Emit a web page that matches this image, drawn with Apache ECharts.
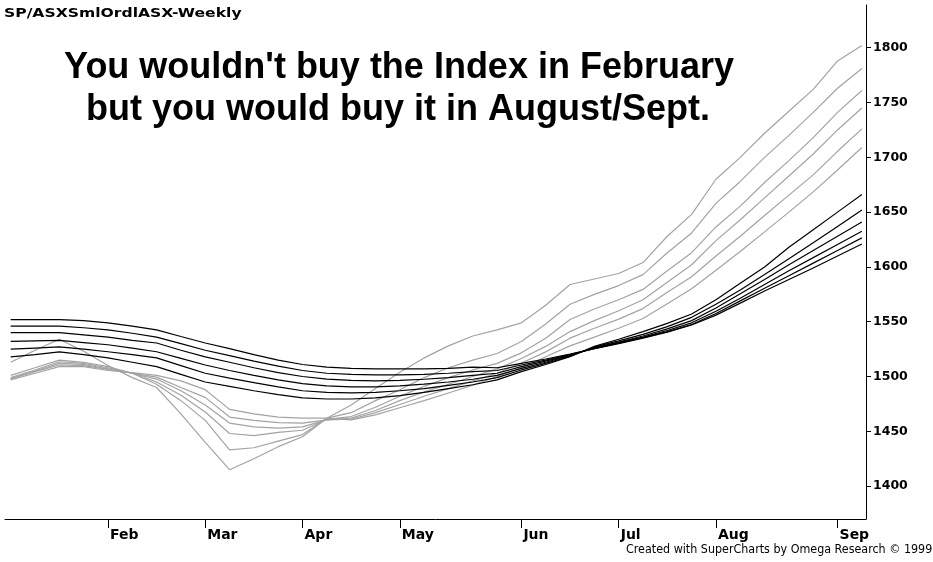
<!DOCTYPE html>
<html>
<head>
<meta charset="utf-8">
<script src="https://cdn.jsdelivr.net/npm/echarts@6/dist/echarts.min.js"></script>
<style>
html,body{margin:0;padding:0;background:#fff;}
#chart{width:933px;height:562px;}
</style>
</head>
<body>
<div id="chart"></div>
<script>
// ---- data (weekly bars, index 0 = mid January) ----
var weeks = [0,1,2,3,4,5,6,7,8,9,10,11,12,13,14,15,16,17,18,19,20,21,22,23,24,25,26,27,28,29,30,31,32,33,34,35];
var monthTickWeeks = [4,8,12,16,21,25,29,34];
var monthNames = ['Feb','Mar','Apr','May','Jun','Jul','Aug','Sep'];
var priceTicks = [1400,1450,1500,1550,1600,1650,1700,1750,1800];

// short-term averages (grey)
var g1 = [1513,1524,1534,1523,1510,1499,1490,1466,1440,1415,1425,1436,1445,1462,1474,1489,1504,1517,1528,1537,1542.5,1549,1565,1584,1589,1594,1604,1628,1648,1680,1700,1722,1742,1762,1788,1802];
var g2 = [1501,1508,1515,1513,1509,1503,1493,1478,1460,1433,1435,1441,1447,1462,1467,1478,1488,1499,1508,1515,1521,1532,1548,1566,1575,1583,1593,1613,1631,1658,1678,1700,1720,1741,1763,1781];
var g3 = [1499,1506,1513.5,1512,1508,1503,1495,1483,1467.6,1448,1446,1449,1451,1461,1463.5,1472,1482,1491,1499,1506,1512,1521.6,1535,1552,1561.6,1570,1579.5,1596.5,1613,1636.5,1655.5,1677,1697,1718,1741,1761];
var g4 = [1498,1505,1512,1511,1507,1503,1497.7,1487,1474,1457.5,1454,1453,1454,1460.5,1462,1469,1478,1486,1493,1500,1507,1516.5,1527.5,1541,1551,1560,1570,1586,1602,1624,1643,1663,1683,1703,1725,1745];
var g5 = [1498,1504.5,1510.5,1510,1506.5,1503,1499.5,1490,1481,1463,1460,1458,1457.5,1460.5,1461,1467,1474.5,1482,1489,1496,1503,1512.4,1522.5,1535,1544,1552.4,1562,1577,1591,1610,1628,1647,1665.5,1684,1705.5,1726];
var g6 = [1497,1503,1509,1509,1505.5,1503.5,1501,1496,1488,1470,1466,1463,1462,1462,1460.5,1465,1471.5,1478,1485,1492,1500,1508,1518,1528,1536,1544,1553,1566.5,1580,1597,1614,1632,1650,1668.5,1688.5,1709];

// long-term averages (black)
var b60 = [1552,1552,1552,1551,1549,1546,1542.5,1536.5,1530.6,1525.5,1520,1515,1511,1508.5,1507.5,1507,1507,1507,1507.5,1508.5,1508,1512,1516,1520.5,1525.5,1530,1535,1540.5,1547,1556,1567,1578,1588.5,1599,1610,1621];
var b50 = [1546,1546,1546,1544.5,1542.5,1539.5,1536,1530,1524,1519,1514,1509.5,1505.5,1503,1502,1501.5,1501.5,1502,1503,1504.5,1505.5,1510.5,1515,1520,1525.5,1530.5,1535.5,1541,1547.5,1557.5,1569,1580.5,1592,1603.5,1615,1626.5];
var b45 = [1540,1540,1540,1538,1536,1533,1530.6,1524,1518,1513,1508,1503.5,1500,1497.7,1496.5,1496,1496.5,1497.5,1499,1501,1503,1509,1514,1519.5,1526,1531,1536,1542,1549,1559.5,1571.5,1584,1596.5,1608.5,1620.5,1632.5];
var b40 = [1532,1532.5,1533,1531,1529,1526,1522.6,1516.5,1510.5,1505.5,1501,1497,1493.5,1491.5,1490.5,1490.5,1491.5,1493,1495,1497.5,1501,1507.5,1513,1519,1526.5,1531.5,1537,1543.5,1551,1562.5,1575.5,1588.5,1602,1615,1628,1641];
var b35 = [1525,1526,1527,1525,1522.6,1520,1517,1510,1503,1498.5,1494.5,1490.5,1487,1485.5,1485,1485.5,1487,1489,1492,1495,1499,1506,1512,1518.5,1527,1532.5,1538.5,1545.5,1554,1566,1579,1593,1607.5,1622,1637,1652];
var b30 = [1518,1520,1522.5,1520,1517,1513,1509,1502,1495,1491,1487,1483.5,1480.5,1479.5,1479.5,1480.5,1482.5,1485.5,1489,1492.5,1497,1504.5,1511,1518,1527.5,1534,1541,1548.5,1557,1570,1585,1600,1618,1634,1650,1666];

var greyLines = [g1,g2,g3,g4,g5,g6];
var blackLines = [b60,b50,b45,b40,b35,b30];

function pairs(arr){ return weeks.map(function(w,i){ return [w, arr[i]]; }); }

var series = [];
greyLines.forEach(function(a){
  series.push({type:'line', data:pairs(a), symbol:'none', silent:true,
    lineStyle:{color:'#a3a3a3', width:1.2}, z:2});
});
blackLines.forEach(function(a){
  series.push({type:'line', data:pairs(a), symbol:'none', silent:true,
    lineStyle:{color:'#000000', width:1.2}, z:3});
});

var chart = echarts.init(document.getElementById('chart'), null, {renderer:'canvas'});
chart.setOption({
  animation:false,
  backgroundColor:'#ffffff',
  grid:{left:5, right:67, top:5, bottom:43, containLabel:false},
  xAxis:{
    type:'value', min:-0.234, max:35.17,
    axisLine:{show:true, onZero:false, lineStyle:{color:'#000', width:1}},
    axisTick:{show:true, customValues:monthTickWeeks, length:9, lineStyle:{color:'#000'}},
    axisLabel:{show:true, customValues:monthTickWeeks, align:'left', margin:9,
      padding:[0,0,0,2],
      formatter:function(v){ var k = monthTickWeeks.indexOf(Math.round(v)); return k>=0?monthNames[k]:''; },
      color:'#000', fontFamily:'DejaVu Sans', fontWeight:'bold', fontSize:14},
    splitLine:{show:false}
  },
  yAxis:{
    type:'value', position:'right', min:1370, max:1839,
    axisLine:{show:true, onZero:false, lineStyle:{color:'#000', width:1}},
    axisTick:{show:true, customValues:priceTicks, length:5, lineStyle:{color:'#000'}},
    axisLabel:{show:true, customValues:priceTicks, margin:7,
      formatter:function(v){ return String(Math.round(v)); },
      color:'#000', fontFamily:'DejaVu Sans', fontWeight:'bold', fontSize:12.5},
    splitLine:{show:false}
  },
  series:series,
  graphic:[
    {type:'text', x:4, y:7, scaleX:1.2, style:{text:'SP/ASXSmlOrdlASX-Weekly', fill:'#000',
      font:'bold 13px "DejaVu Sans"', textVerticalAlign:'top'}},
    {type:'text', x:399, y:86, style:{text:"You wouldn't buy the Index in February", fill:'#000',
      font:'bold 36px "Liberation Sans", Arial', textAlign:'center', textVerticalAlign:'bottom'}},
    {type:'text', x:398, y:128, style:{text:'but you would buy it in August/Sept.', fill:'#000',
      font:'bold 36px "Liberation Sans", Arial', textAlign:'center', textVerticalAlign:'bottom'}},
    {type:'text', x:626, y:544, style:{text:'Created with SuperCharts by Omega Research \u00a9 1999', fill:'#000',
      font:'12.4px "Liberation Sans Narrow", "DejaVu Sans Condensed", Arial'}}
  ]
});
</script>
</body>
</html>
